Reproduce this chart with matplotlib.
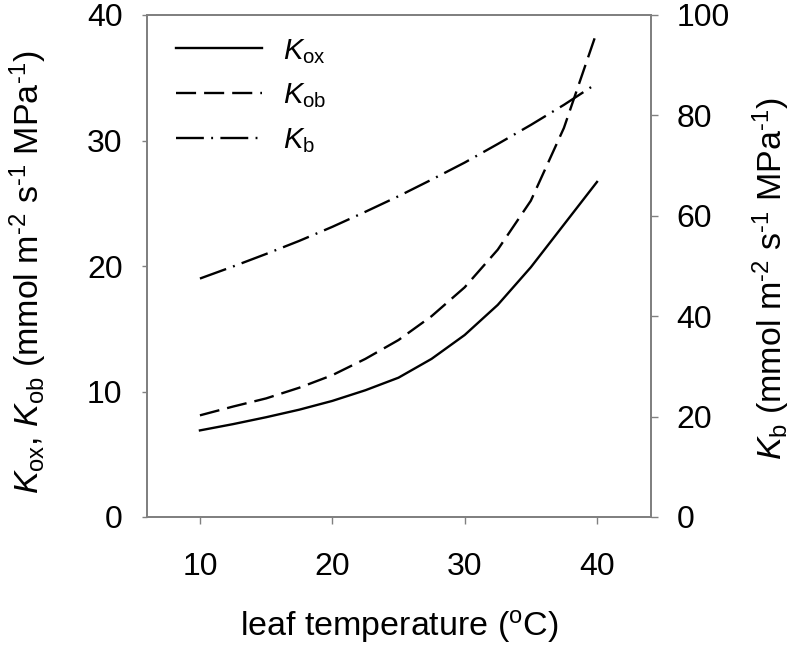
import matplotlib
matplotlib.use("Agg")
import matplotlib.pyplot as plt

plt.rcParams['font.family'] = ['Liberation Sans', 'DejaVu Sans']
plt.rcParams['mathtext.fontset'] = 'custom'
plt.rcParams['mathtext.rm'] = 'Liberation Sans'
plt.rcParams['mathtext.it'] = 'Liberation Sans:italic'
plt.rcParams['mathtext.bf'] = 'Liberation Sans:bold'

# Data
temperature = [10, 12.5, 15, 17.5, 20, 22.5, 25, 27.5, 30, 32.5, 35, 37.5, 40]
K_ox = [6.9, 7.4, 7.95, 8.55, 9.25, 10.1, 11.1, 12.6, 14.5, 16.9, 19.9, 23.3, 26.7]
K_ob = [8.1, 8.8, 9.45, 10.3, 11.3, 12.6, 14.1, 16.0, 18.3, 21.3, 25.2, 31.0, 38.7]
K_b = [47.5, 49.9, 52.4, 55.0, 57.8, 60.8, 63.9, 67.2, 70.6, 74.3, 78.1, 82.1, 86.4]

x_ticks = [10, 20, 30, 40]
left_ticks = [0, 10, 20, 30, 40]
right_ticks = [0, 20, 40, 60, 80, 100]

spine_col = '#808080'
fs = 23
lfs = 24.5

fig = plt.figure(figsize=(7.97, 6.45), dpi=100)
ax = fig.add_axes([147 / 797, 1 - 517 / 645, (651 - 147) / 797, (517 - 15) / 645])
ax2 = ax.twinx()

lw = 1.7
l1, = ax.plot(temperature, K_ox, color='black', lw=lw)
l2, = ax.plot(temperature, K_ob, color='black', lw=lw, dashes=(8.5, 3.4))
l3, = ax2.plot(temperature, K_b, color='black', lw=lw, dashes=(11.8, 3.1, 0.8, 3.1))

ax.set_xlim(6.0, 44.08)
ax.set_ylim(0, 40)
ax2.set_ylim(0, 100)
ax.set_xticks(x_ticks)
ax.set_yticks(left_ticks)
ax2.set_yticks(right_ticks)

for a in (ax, ax2):
    for s in a.spines.values():
        s.set_color(spine_col)
        s.set_linewidth(1.3)
    a.tick_params(colors=spine_col, labelcolor='black', labelsize=fs,
                  width=1.0, direction='out')
ax.tick_params(axis='x', length=5, pad=20)
ax.tick_params(axis='y', length=3.6, pad=14)
ax2.tick_params(axis='y', length=5, pad=13.5)

units = r'(mmol m$^{\text{-2}}$ s$^{\text{-1}}$ MPa$^{\text{-1}}$)'
ax.set_xlabel(r'leaf temperature ($^{\rm o}$C)', fontsize=lfs, labelpad=19)
ax.set_ylabel(r'$K_{\rm ox}$, $K_{\rm ob}$ ' + units, fontsize=lfs, labelpad=27)
ax2.set_ylabel(r'$K_{\rm b}$ ' + units, fontsize=lfs, labelpad=15)
ax.yaxis.label.set_y(0.488)
ax2.yaxis.label.set_y(0.475)

ax.legend([l1, l2, l3], [r'$K_{\rm ox}$', r'$K_{\rm ob}$', r'$K_{\rm b}$'],
          loc='upper left', frameon=False, fontsize=21, handlelength=2.93,
          handletextpad=0.72, labelspacing=0.55, borderaxespad=0.0,
          bbox_to_anchor=(0.0345, 0.98))

fig.savefig('out.png', dpi=100)
